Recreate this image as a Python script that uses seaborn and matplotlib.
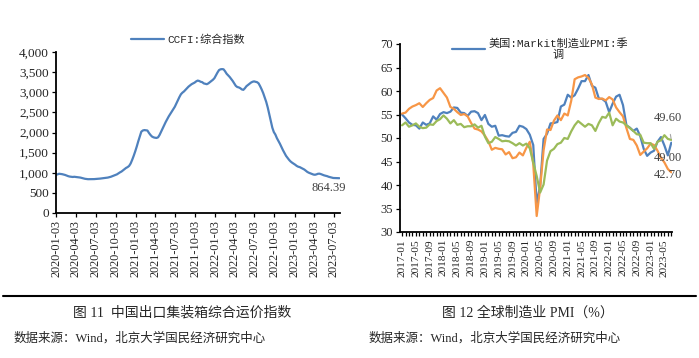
import numpy as np
import pandas as pd
import matplotlib
matplotlib.use("Agg")
import matplotlib.pyplot as plt
import seaborn as sns
from matplotlib.lines import Line2D
from matplotlib.ticker import FuncFormatter, MultipleLocator

# ---------------- data ----------------
ccfi_start = "2020-01-03"
ccfi_values = [
    950, 960, 975, 970, 965, 955, 945, 930, 915, 905, 900, 895, 900,
    895, 890, 885, 880, 870, 860, 850, 845, 840, 840, 838, 840, 842,
    845, 848, 850, 855, 860, 865, 870, 875, 880, 890, 900, 915, 930,
    945, 960, 985, 1010, 1030, 1060, 1090, 1120, 1140,
    1170, 1230, 1320, 1420, 1530, 1650, 1780, 1900, 2020, 2050, 2060, 2055, 2050,
    1990, 1940, 1900, 1880, 1870, 1865, 1880, 1940, 2020, 2100, 2180, 2260, 2330,
    2400, 2460, 2520, 2580, 2640, 2720, 2800, 2880, 2950, 2990, 3020, 3060, 3100,
    3140, 3170, 3200, 3220, 3240, 3270, 3290, 3280, 3260, 3250, 3220, 3210, 3200,
    3220, 3250, 3280, 3310, 3350, 3420, 3490, 3550, 3570, 3575, 3570, 3520, 3460,
    3420, 3380, 3330, 3280, 3220, 3160, 3130, 3120, 3100, 3070, 3060, 3100, 3150,
    3180, 3210, 3240, 3260, 3270, 3260, 3250, 3220, 3150, 3070, 2980, 2870, 2760,
    2620, 2450, 2280, 2120, 2010, 1950, 1860, 1790, 1720, 1640, 1560, 1490, 1420,
    1370, 1320, 1280, 1250, 1225, 1200, 1170, 1150, 1140, 1120, 1100, 1080, 1050,
    1020, 1000, 985, 970, 955, 950, 960, 975, 977, 965, 950, 935, 925,
    915, 900, 890, 880, 870, 868, 866, 865, 864.39,
]
ccfi_ticklabels = ["2020-01-03", "2020-04-03", "2020-07-03", "2020-10-03",
                   "2021-01-03", "2021-04-03", "2021-07-03", "2021-10-03",
                   "2022-01-03", "2022-04-03", "2022-07-03", "2022-10-03",
                   "2023-01-03", "2023-04-03", "2023-07-03"]

pmi_us = [55.0, 54.2, 53.3, 52.8, 52.7, 52.0, 53.3, 52.8, 53.1, 54.6, 53.9, 55.1,
          55.5, 55.3, 55.6, 56.5, 56.4, 55.4, 55.3, 54.7, 55.6, 55.7, 55.3, 53.8,
          54.9, 53.0, 52.4, 52.6, 50.5, 50.6, 50.4, 50.3, 51.1, 51.3, 52.6, 52.4,
          51.9, 50.7, 48.5, 36.1, 39.8, 49.8, 50.9, 53.1, 53.2, 53.4, 56.7, 57.1,
          59.2, 58.6, 59.1, 60.5, 62.1, 62.1, 63.4, 61.1, 60.7, 58.4, 58.3, 57.7,
          55.5, 57.3, 58.8, 59.2, 57.0, 52.7, 52.2, 51.5, 52.0, 50.4, 47.7, 46.2,
          46.9, 47.3, 49.2, 50.2, 48.4, 46.3, 49.0]
pmi_euro = [55.2, 55.4, 56.2, 56.7, 57.0, 57.4, 56.6, 57.4, 58.1, 58.5, 60.1, 60.6,
            59.6, 58.6, 56.6, 56.2, 55.5, 54.9, 55.1, 54.6, 53.2, 52.0, 51.8, 51.4,
            50.5, 49.3, 47.5, 47.9, 47.7, 47.6, 46.5, 47.0, 45.7, 45.9, 46.9, 46.3,
            47.9, 49.2, 44.5, 33.4, 39.4, 47.4, 51.8, 51.7, 53.7, 54.8, 53.8, 55.2,
            54.8, 57.9, 62.5, 62.9, 63.1, 63.4, 62.8, 61.4, 58.6, 58.3, 58.4, 58.0,
            58.7, 58.2, 56.5, 55.5, 54.6, 52.1, 49.8, 49.6, 48.4, 46.4, 47.1, 47.8,
            48.8, 48.5, 47.3, 45.8, 44.8, 43.4, 42.7]
pmi_japan = [52.7, 53.3, 52.4, 52.7, 53.1, 52.4, 52.1, 52.2, 52.9, 52.8, 53.6, 54.0,
             54.8, 54.1, 53.1, 53.8, 52.8, 53.0, 52.3, 52.5, 52.5, 52.9, 52.2, 52.6,
             50.3, 48.9, 49.2, 50.2, 49.8, 49.3, 49.4, 49.3, 48.9, 48.4, 48.9, 48.4,
             48.8, 47.8, 44.8, 41.9, 38.4, 40.1, 45.2, 47.2, 47.7, 48.7, 49.0, 50.0,
             49.8, 51.4, 52.7, 53.6, 53.0, 52.4, 53.0, 52.7, 51.5, 53.2, 54.5, 54.3,
             55.4, 52.7, 54.1, 53.5, 53.3, 52.7, 52.1, 51.5, 50.8, 50.7, 49.0, 48.9,
             48.9, 47.7, 49.2, 49.5, 50.6, 49.8, 49.6]
pmi_months = [str(p) for p in pd.period_range("2017-01", periods=len(pmi_us), freq="M")]

BLUE, ORANGE, GREEN = "#4F81BD", "#F79646", "#9BBB59"

# ---------------- style ----------------
sns.set_theme(style="white")
plt.rcParams["font.family"] = ["Liberation Serif", "Noto Sans CJK SC"]
plt.rcParams["axes.unicode_minus"] = False
LEG_FONT = ["Liberation Mono", "Noto Sans CJK SC"]
CJK_FONT = ["Liberation Serif", "Noto Sans CJK SC"]

fig = plt.figure(figsize=(6.99, 3.58), dpi=100)
W, H = 699, 358

def ax_rect(x0, y0, x1, y1):
    return [x0 / W, 1 - y1 / H, (x1 - x0) / W, (y1 - y0) / H]

# ---------------- left chart ----------------
ax1 = fig.add_axes(ax_rect(56, 52, 340, 213))
ccfi_dates = pd.date_range(ccfi_start, periods=len(ccfi_values), freq="7D")
df1 = pd.DataFrame({"date": ccfi_dates, "value": ccfi_values})
sns.lineplot(data=df1, x="date", y="value", ax=ax1, color=BLUE, lw=1.6,
             label="CCFI:综合指数")
ax1.set_xlim(ccfi_dates[0], ccfi_dates[-1] + pd.Timedelta(days=3))
ax1.set_ylim(0, 4000)
ax1.yaxis.set_major_locator(MultipleLocator(500))
ax1.yaxis.set_major_formatter(FuncFormatter(lambda v, p: f"{v:,.0f}"))
tick_dates = pd.to_datetime(ccfi_ticklabels)
ax1.set_xticks(tick_dates)
ax1.set_xticklabels(ccfi_ticklabels, rotation=90)
ax1.set_xlabel("")
ax1.set_ylabel("")
ax1.annotate("864.39", xy=(ccfi_dates[-1], ccfi_values[-1]),
             xytext=(ccfi_dates[-8], 630), ha="center", va="center",
             fontsize=9, color="#404040", annotation_clip=False)
leg1 = ax1.legend(loc="center", bbox_to_anchor=(188 / W, 1 - 40 / H),
                  bbox_transform=fig.transFigure, frameon=False,
                  prop={"family": LEG_FONT, "size": 8}, handlelength=3,
                  handletextpad=0.3, borderpad=0)

# ---------------- right chart ----------------
ax2 = fig.add_axes(ax_rect(400, 44, 672, 232))
idx = np.arange(len(pmi_months))
df2 = pd.DataFrame({"idx": idx, "us": pmi_us, "euro": pmi_euro, "japan": pmi_japan})
sns.lineplot(data=df2, x="idx", y="us", ax=ax2, color=BLUE, lw=1.6,
             label="美国:Markit制造业PMI:季\n调")
sns.lineplot(data=df2, x="idx", y="euro", ax=ax2, color=ORANGE, lw=1.6)
sns.lineplot(data=df2, x="idx", y="japan", ax=ax2, color=GREEN, lw=1.6)
ax2.set_xlim(-0.6, len(idx) - 0.8)
ax2.set_ylim(30, 70)
ax2.yaxis.set_major_locator(MultipleLocator(5))
ax2.set_xticks(idx[::4])
ax2.set_xticklabels(pmi_months[::4], rotation=90)
ax2.set_xticks(idx, minor=True)
ax2.set_xlabel("")
ax2.set_ylabel("")
ann_kw = dict(fontsize=9, color="#404040", ha="center", va="center",
              annotation_clip=False)
ax2.annotate(f"{pmi_japan[-1]:.2f}", xy=(idx[-1], pmi_japan[-1]),
             xytext=(76.9, 54.2),
             arrowprops=dict(arrowstyle="-", color="#A6A6A6", lw=0.8,
                             shrinkA=5, shrinkB=1), **ann_kw)
ax2.annotate(f"{pmi_us[-1]:.2f}", xy=(idx[-1], pmi_us[-1]),
             xytext=(76.9, 45.7), **ann_kw)
ax2.annotate(f"{pmi_euro[-1]:.2f}", xy=(idx[-1], pmi_euro[-1]),
             xytext=(76.9, 42.2), **ann_kw)
handles, labels = ax2.get_legend_handles_labels()
leg2 = ax2.legend(handles[:1], labels[:1], loc="center",
                  bbox_to_anchor=(540 / W, 1 - 49 / H),
                  bbox_transform=fig.transFigure, frameon=False,
                  prop={"family": LEG_FONT, "size": 8}, handlelength=3,
                  handletextpad=0.3, borderpad=0)
for t in leg2.get_texts():
    t.set_multialignment("center")

for ax in (ax1, ax2):
    for s in ("top", "right"):
        ax.spines[s].set_visible(False)
    for s in ("left", "bottom"):
        ax.spines[s].set_color("black")
        ax.spines[s].set_linewidth(1.3)
    ax.tick_params(axis="both", which="major", direction="out", length=3,
                   width=0.9, color="black", labelsize=9, pad=2,
                   left=True, bottom=True)
    ax.grid(False)
ax1.tick_params(axis="y", labelsize=9.5)
ax1.tick_params(axis="x", labelsize=8.8)
ax2.tick_params(axis="x", labelsize=8.2)
ax2.tick_params(axis="x", which="minor", direction="out", length=3,
                width=0.9, color="black", bottom=True)

# ---------------- captions ----------------
fig.add_artist(Line2D([3 / W, 696 / W], [1 - 296 / H] * 2, color="black",
                      lw=1.5, transform=fig.transFigure))
fig.text(182 / W, 1 - 313 / H, "图 11  中国出口集装箱综合运价指数", ha="center",
         va="center", fontsize=10, family=CJK_FONT)
fig.text(528 / W, 1 - 313 / H, "图 12 全球制造业 PMI（%）", ha="center",
         va="center", fontsize=10, family=CJK_FONT)
fig.text(14 / W, 1 - 338 / H, "数据来源：Wind，北京大学国民经济研究中心", ha="left",
         va="center", fontsize=9, family=CJK_FONT)
fig.text(369 / W, 1 - 338 / H, "数据来源：Wind，北京大学国民经济研究中心", ha="left",
         va="center", fontsize=9, family=CJK_FONT)

fig.savefig("out.png", dpi=100, facecolor="white")
